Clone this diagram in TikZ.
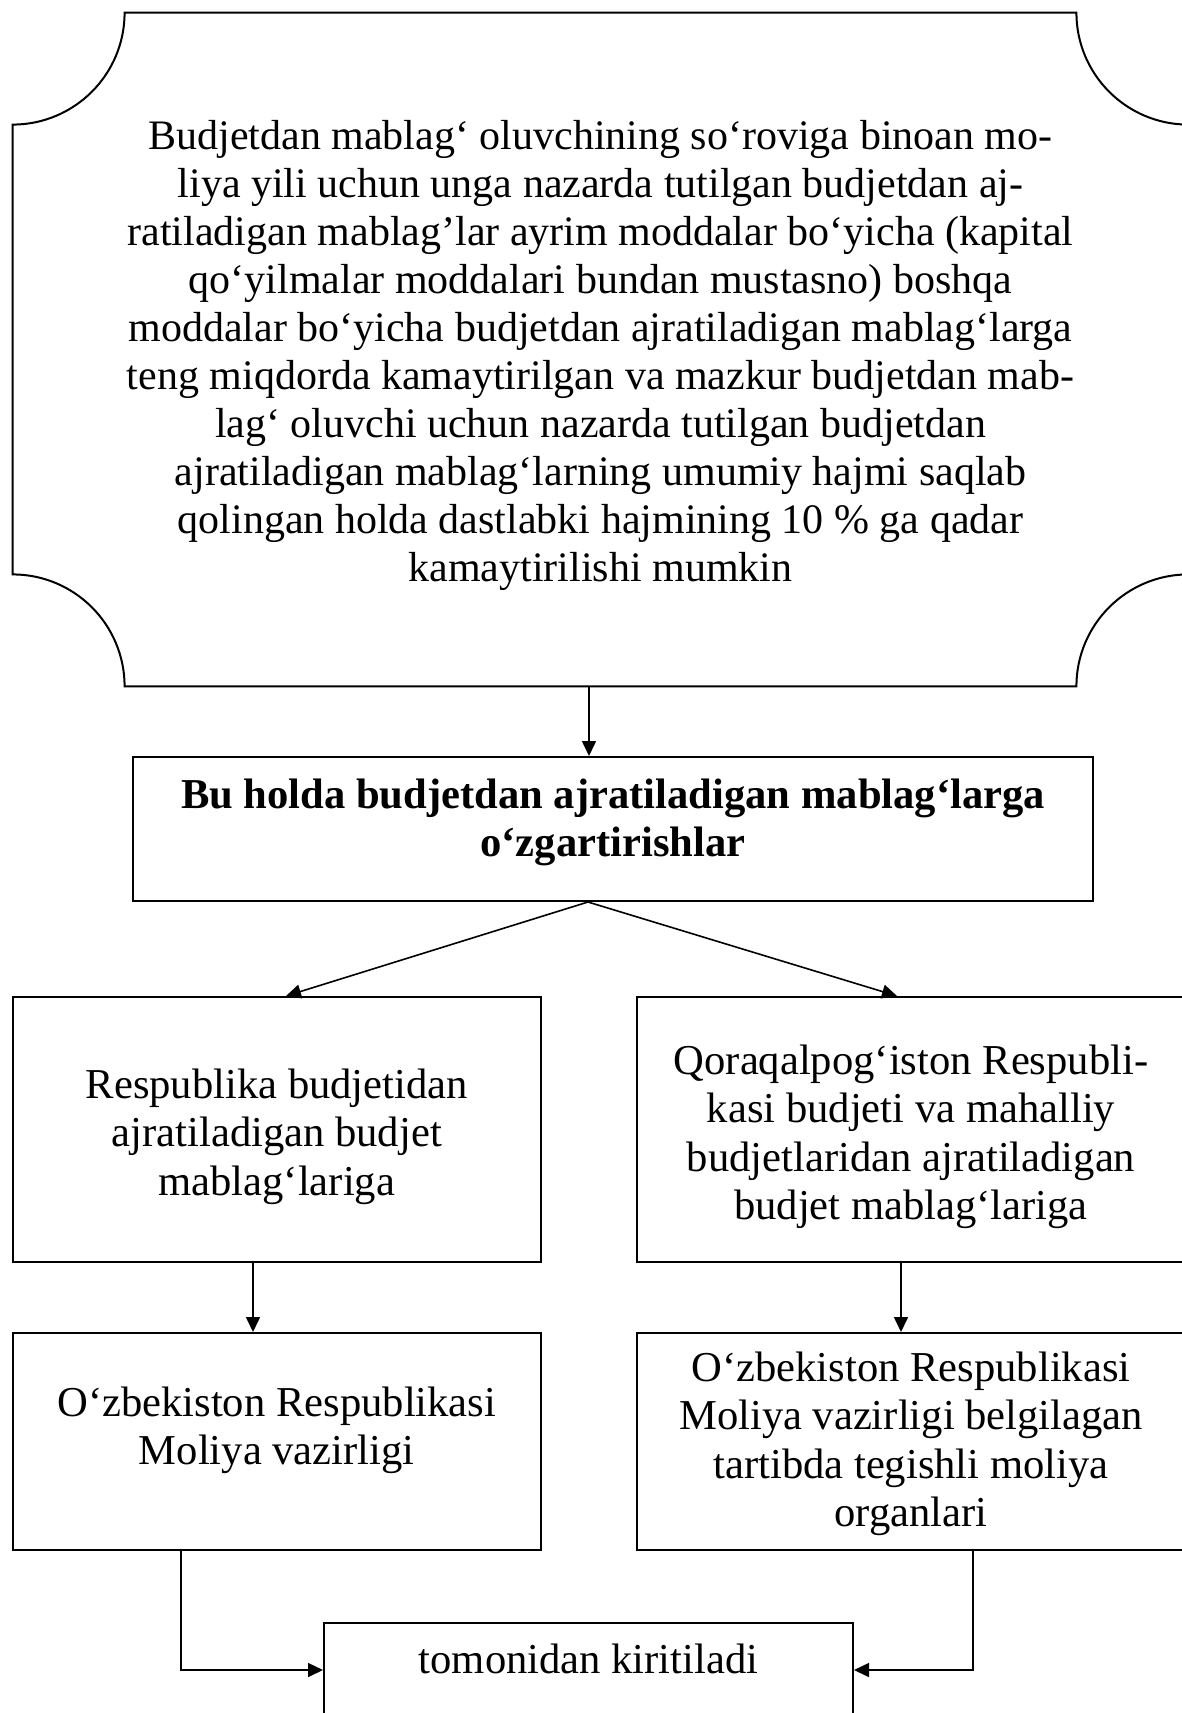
\documentclass[tikz,border=0pt]{standalone}
\usepackage{fontspec}
\setmainfont{Liberation Serif}
\usetikzlibrary{arrows.meta,calc}

\begin{document}
\begin{tikzpicture}[x=1pt, y=1pt,
    box/.style={draw, line width=1pt, rectangle, align=center, inner sep=0pt, font=\fontsize{21.3}{24.3}\selectfont},
    arr/.style={-{Triangle[length=7.5pt,width=7pt]}, line width=0.8pt}]
    \useasboundingbox (0,0) rectangle (591,-856.5);

    % top plaque with scooped corners
    \node[align=center, minimum width=587.5pt, minimum height=336.5pt, inner sep=0pt,
          font=\fontsize{21}{24}\selectfont] (req) at (300.25,-174.75)
        {\rule{0pt}{20.5pt}Budjetdan mablag‘ oluvchining so‘roviga binoan mo-\\
         liya yili uchun unga nazarda tutilgan budjetdan aj-\\
         ratiladigan mablag’lar ayrim moddalar bo‘yicha (kapital\\
         qo‘yilmalar moddalari bundan mustasno) boshqa\\
         moddalar bo‘yicha budjetdan ajratiladigan mablag‘larga\\
         teng miqdorda kamaytirilgan va mazkur budjetdan mab-\\
         lag‘ oluvchi uchun nazarda tutilgan budjetdan\\
         ajratiladigan mablag‘larning umumiy hajmi saqlab\\
         qolingan holda dastlabki hajmining 10 \% ga qadar\\
         kamaytirilishi mumkin};
    \draw[line width=1pt] ([xshift=56pt]req.north west) -- ([xshift=-56pt]req.north east)
        arc[start angle=180, end angle=270, radius=56pt] -- ([yshift=56pt]req.south east)
        arc[start angle=90, end angle=180, radius=56pt] -- ([xshift=56pt]req.south west)
        arc[start angle=0, end angle=90, radius=56pt] -- ([yshift=-56pt]req.north west)
        arc[start angle=270, end angle=360, radius=56pt] -- cycle;

    \node[box, minimum width=480pt, minimum height=72pt] (chg) at (306.5,-414.5)
        {\bfseries Bu holda budjetdan ajratiladigan mablag‘larga\\\bfseries o‘zgartirishlar\rule[-11.2pt]{0pt}{0pt}};
    \node[box, minimum width=264.25pt, minimum height=132.5pt] (resp) at (138.4,-564.75)
        {\rule{0pt}{22pt}Respublika budjetidan\\ajratiladigan budjet\\mablag‘lariga};
    \node[box, minimum width=274pt, minimum height=132.5pt] (qqr) at (455.5,-564.75)
        {\rule{0pt}{22pt}Qoraqalpog‘iston Respubli-\\kasi budjeti va mahalliy\\budjetlaridan ajratiladigan\\budjet mablag‘lariga};
    \node[box, minimum width=264.25pt, minimum height=108.5pt] (mv) at (138.4,-720.75)
        {O‘zbekiston Respublikasi\\Moliya vazirligi\rule[-15.6pt]{0pt}{0pt}};
    \node[box, minimum width=274pt, minimum height=108.5pt] (mo) at (455.5,-720.75)
        {\rule{0pt}{17pt}O‘zbekiston Respublikasi\\Moliya vazirligi belgilagan\\tartibda tegishli moliya\\organlari};
    \node[box, anchor=north, minimum width=264.5pt, inner ysep=6pt, text height=19pt, text depth=40pt]
        (kir) at (294.25,-811) {tomonidan kiritiladi};

    \draw[arr] ([xshift=-5.75pt]req.south) -- ([xshift=-5.75pt]req.south |- chg.north);
    \draw[arr] ([xshift=-12.5pt]chg.south) -- ([xshift=4.6pt]resp.north);
    \draw[arr] ([xshift=-12.5pt]chg.south) -- ([xshift=-7pt]qqr.north);
    \draw[arr] ([xshift=-11.9pt]resp.south) -- ([xshift=-11.9pt]mv.north);
    \draw[arr] ([xshift=-5pt]qqr.south) -- ([xshift=-5pt]mo.north);
    \draw[arr] ([xshift=-47.9pt]mv.south) |- ([yshift=-24pt]kir.north west);
    \draw[arr] ([xshift=31pt]mo.south) |- ([yshift=-24pt]kir.north east);
\end{tikzpicture}
\end{document}
